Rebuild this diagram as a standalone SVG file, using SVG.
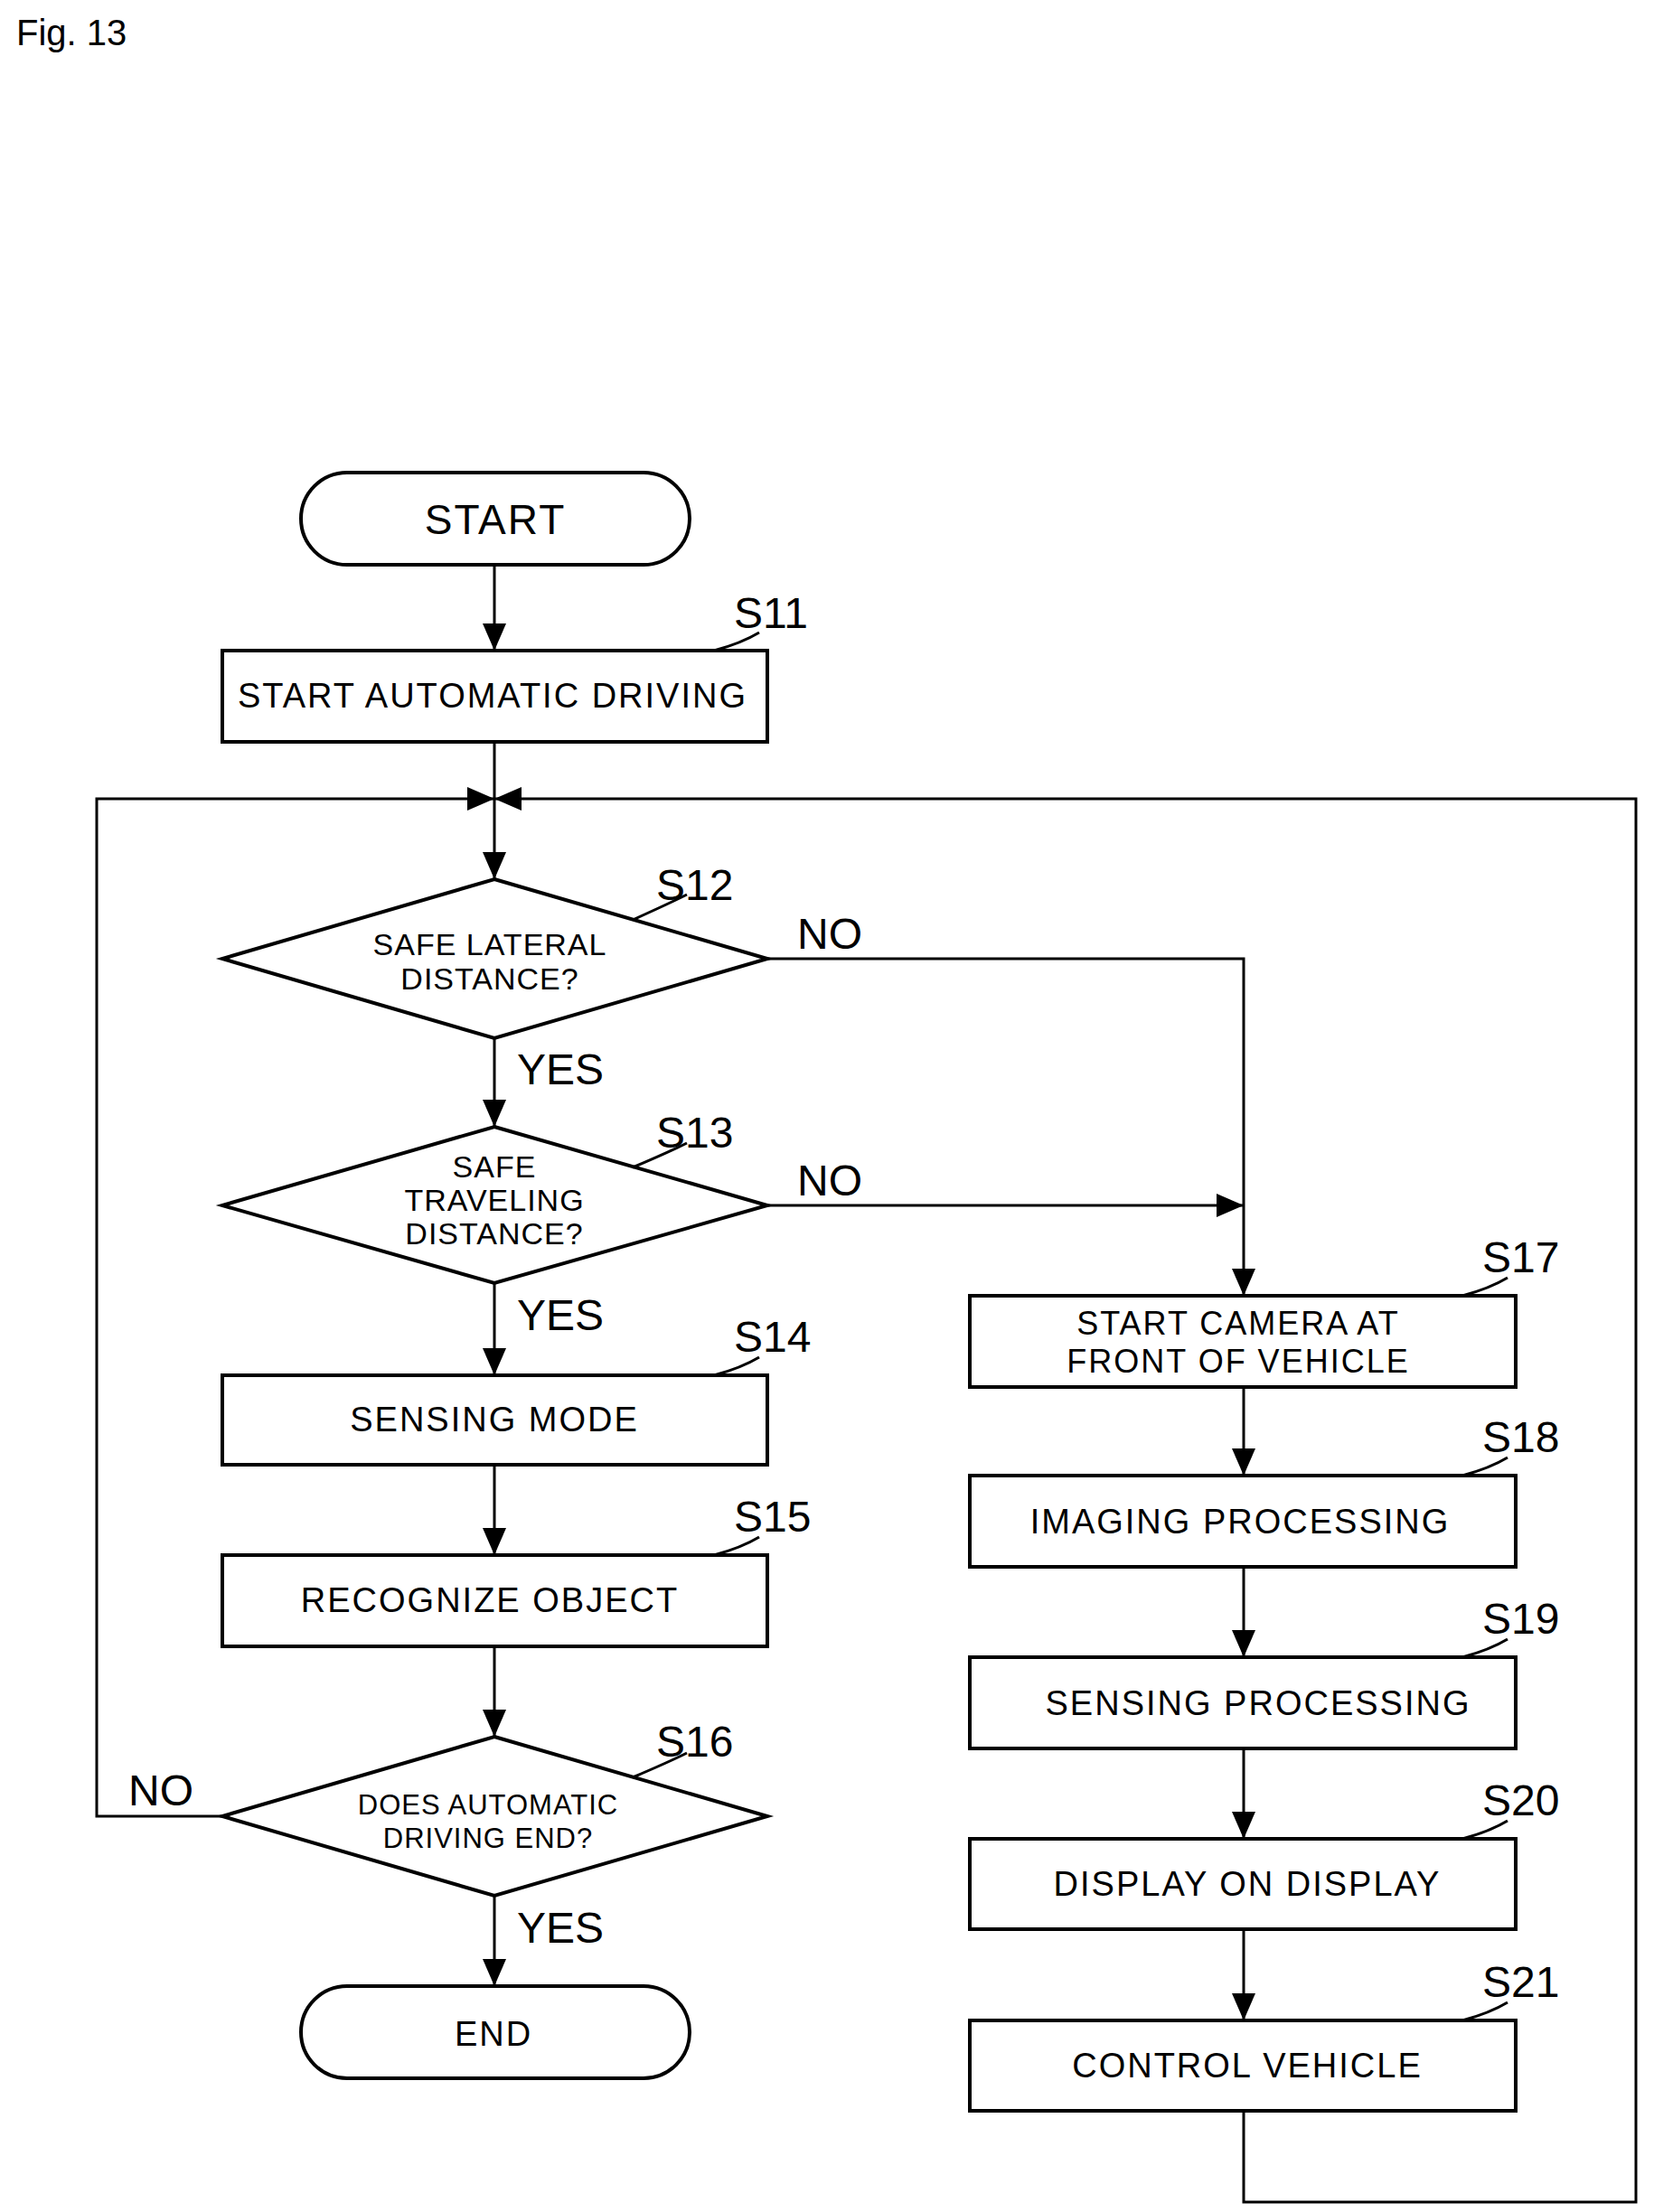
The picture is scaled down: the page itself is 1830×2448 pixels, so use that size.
<svg xmlns="http://www.w3.org/2000/svg" width="1830" height="2448" viewBox="0 0 1830 2448">
<style>
.s{fill:#fff;stroke:#000;stroke-width:4}
.l{fill:none;stroke:#000;stroke-width:3}
text{font-family:"Liberation Sans",Arial,sans-serif;fill:#000}
.t{font-size:38px;text-anchor:middle;letter-spacing:2px}
.sm{font-size:34px;text-anchor:middle;letter-spacing:1px}
.lb{font-size:48px}
.yn{font-size:48px}
</style>
<defs><marker id="A" markerWidth="30" markerHeight="26" refX="30" refY="13" orient="auto" markerUnits="userSpaceOnUse"><path d="M0,0 L30,13 L0,26z"/></marker></defs>
<rect width="1830" height="2448" fill="#fff"/>
<text x="18" y="50" font-size="40">Fig. 13</text>
<g id="connectors">
<path class="l" d="M547,625 V720" marker-end="url(#A)"/>
<path class="l" d="M547,821 V973" marker-end="url(#A)"/>
<path class="l" d="M547,1149 V1247" marker-end="url(#A)"/>
<path class="l" d="M547,1420 V1522" marker-end="url(#A)"/>
<path class="l" d="M547,1621 V1721" marker-end="url(#A)"/>
<path class="l" d="M547,1822 V1922" marker-end="url(#A)"/>
<path class="l" d="M547,2098 V2198" marker-end="url(#A)"/>
<path class="l" d="M246,2010 H107 V884 H547" marker-end="url(#A)"/>
<path class="l" d="M1376,2336 V2437 H1810 V884 H547" marker-end="url(#A)"/>
<path class="l" d="M849,1061 H1376 V1434" marker-end="url(#A)"/>
<path class="l" d="M849,1334 H1376" marker-end="url(#A)"/>
<path class="l" d="M1376,1535 V1633" marker-end="url(#A)"/>
<path class="l" d="M1376,1734 V1834" marker-end="url(#A)"/>
<path class="l" d="M1376,1935 V2035" marker-end="url(#A)"/>
<path class="l" d="M1376,2135 V2236" marker-end="url(#A)"/>
</g>
<g id="start"><rect class="s" x="333" y="523" width="430" height="102" rx="51"/><text class="t" x="548" y="591" style="font-size:46px">START</text></g>
<g id="s11"><rect class="s" x="246" y="720" width="603" height="101"/><text class="t" x="545" y="783">START AUTOMATIC DRIVING</text><path class="l" d="M790,720 Q820,712 840,700"/><text class="lb" x="812" y="695">S11</text></g>
<g id="s12"><path class="s" d="M547,973 L849,1061 L547,1149 L246,1061z"/><text class="sm" x="542" y="1057">SAFE LATERAL</text><text class="sm" x="542" y="1095">DISTANCE?</text><path class="l" d="M700,1018 Q740,1000 760,990"/><text class="lb" x="726" y="996">S12</text><text class="yn" x="882" y="1050">NO</text><text class="yn" x="572" y="1200">YES</text></g>
<g id="s13"><path class="s" d="M547,1247 L849,1334 L547,1420 L246,1334z"/><text class="sm" x="547" y="1303">SAFE</text><text class="sm" x="547" y="1340">TRAVELING</text><text class="sm" x="547" y="1377">DISTANCE?</text><path class="l" d="M700,1292 Q740,1275 760,1265"/><text class="lb" x="726" y="1270">S13</text><text class="yn" x="882" y="1323">NO</text><text class="yn" x="572" y="1472">YES</text></g>
<g id="s14"><rect class="s" x="246" y="1522" width="603" height="99"/><text class="t" x="547" y="1584">SENSING MODE</text><path class="l" d="M790,1522 Q820,1514 840,1502"/><text class="lb" x="812" y="1496">S14</text></g>
<g id="s15"><rect class="s" x="246" y="1721" width="603" height="101"/><text class="t" x="542" y="1784">RECOGNIZE OBJECT</text><path class="l" d="M790,1721 Q820,1713 840,1701"/><text class="lb" x="812" y="1695">S15</text></g>
<g id="s16"><path class="s" d="M547,1922 L849,2010 L547,2098 L246,2010z"/><text class="sm" x="540" y="2008" style="font-size:31px">DOES AUTOMATIC</text><text class="sm" x="540" y="2045" style="font-size:31px">DRIVING END?</text><path class="l" d="M700,1967 Q740,1950 760,1940"/><text class="lb" x="726" y="1944">S16</text><text class="yn" x="142" y="1998">NO</text><text class="yn" x="572" y="2150">YES</text></g>
<g id="end"><rect class="s" x="333" y="2198" width="430" height="102" rx="51"/><text class="t" x="546" y="2264">END</text></g>
<g id="s17"><rect class="s" x="1073" y="1434" width="604" height="101"/><text class="t" x="1370" y="1477" style="font-size:36px">START CAMERA AT</text><text class="t" x="1370" y="1519" style="font-size:36px">FRONT OF VEHICLE</text><path class="l" d="M1618,1434 Q1648,1426 1668,1414"/><text class="lb" x="1640" y="1408">S17</text></g>
<g id="s18"><rect class="s" x="1073" y="1633" width="604" height="101"/><text class="t" x="1372" y="1697">IMAGING PROCESSING</text><path class="l" d="M1618,1633 Q1648,1625 1668,1613"/><text class="lb" x="1640" y="1607">S18</text></g>
<g id="s19"><rect class="s" x="1073" y="1834" width="604" height="101"/><text class="t" x="1392" y="1898">SENSING PROCESSING</text><path class="l" d="M1618,1834 Q1648,1826 1668,1814"/><text class="lb" x="1640" y="1808">S19</text></g>
<g id="s20"><rect class="s" x="1073" y="2035" width="604" height="100"/><text class="t" x="1380" y="2098">DISPLAY ON DISPLAY</text><path class="l" d="M1618,2035 Q1648,2027 1668,2015"/><text class="lb" x="1640" y="2009">S20</text></g>
<g id="s21"><rect class="s" x="1073" y="2236" width="604" height="100"/><text class="t" x="1380" y="2299">CONTROL VEHICLE</text><path class="l" d="M1618,2236 Q1648,2228 1668,2216"/><text class="lb" x="1640" y="2210">S21</text></g>
</svg>
